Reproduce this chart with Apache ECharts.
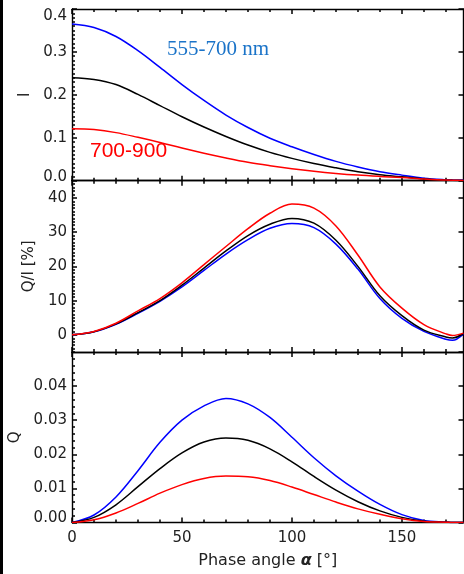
<!DOCTYPE html>
<html><head><meta charset="utf-8">
<script src="https://cdn.jsdelivr.net/npm/echarts@6/dist/echarts.min.js"></script>
<style>html,body{margin:0;padding:0;background:#fff}#c{width:464px;height:574px}</style>
</head><body><div id="c"></div>
<script>
// ---- data (phase angle in degrees) ----
const angles = [0,10,20,30,40,50,60,70,80,90,100,110,120,130,140,150,160,170,173,178];

// Panel 1: I
const iBlue  = [0.365,0.357,0.336,0.303,0.264,0.224,0.187,0.153,0.124,0.099,0.079,0.061,0.045,0.032,0.021,0.013,0.006,0.002,0.0015,0.001];
const iBlack = [0.240,0.236,0.224,0.201,0.175,0.149,0.125,0.103,0.083,0.066,0.052,0.040,0.030,0.021,0.014,0.009,0.004,0.0012,0.0008,0.0005];
const iRed   = [0.121,0.119,0.112,0.101,0.089,0.076,0.064,0.053,0.043,0.035,0.028,0.022,0.017,0.013,0.010,0.0075,0.004,0.0015,0.001,0.0005];

// Panel 2: Q/I [%]
const qiBlue  = [0,0.9,3.1,6.3,9.8,14.0,18.8,23.6,27.8,31.1,32.5,31.3,26.5,19.2,10.6,4.8,1.0,-1.3,-1.6,0.3];
const qiBlack = [0,0.9,3.2,6.5,10.0,14.5,19.5,24.5,29.0,32.3,34.0,32.6,27.6,20.0,11.4,5.6,1.4,-0.6,-0.9,0.4];
const qiRed   = [0,1.0,3.4,7.0,10.6,15.2,20.5,25.8,31.0,35.5,38.2,37.0,31.8,23.3,14.0,7.8,3.0,0.3,-0.2,0.5];

// Panel 3: Q
const qBlue  = [0,0.0022,0.0075,0.0152,0.0235,0.0300,0.0342,0.0364,0.0348,0.0308,0.0250,0.0190,0.0137,0.0092,0.0053,0.0023,0.0006,0.0001,0,0];
const qBlack = [0,0.0015,0.0052,0.0105,0.0158,0.0204,0.0236,0.0248,0.0241,0.0216,0.0178,0.0135,0.0095,0.0061,0.0034,0.0015,0.0004,0.0001,0,0];
const qRed   = [0,0.0008,0.0028,0.0056,0.0086,0.0111,0.0129,0.0136,0.0134,0.0123,0.0104,0.0082,0.0060,0.0040,0.0024,0.0011,0.0003,0.0001,0,0];

// ---- axes ----
const X_MIN = 0, X_MAX = 178, X_MAJOR = 50, X_MINOR = 10;

const panels = [
  { min: 0, max: 0.4, major: 0.1, minor: 0.01, dec: 1, name: 'I', nameGap: 37, showMin: true, showMax: true, lowPad: 8, hiPad: 14,
    series: [[iBlue,'#0000ff'],[iBlack,'#000000'],[iRed,'#ff0000']] },
  { min: -5, max: 45, major: null, split: 5, minor: 1, dec: 0, name: 'Q/I [%]', nameGap: 35, showMin: false, showMax: false, lowPad: 0, hiPad: 0,
    series: [[qiBlue,'#0000ff'],[qiBlack,'#000000'],[qiRed,'#ff0000']] },
  { min: 0, max: 0.05, major: 0.01, minor: 0.002, dec: 2, name: 'Q', nameGap: 48, showMin: true, showMax: false, lowPad: 9, hiPad: 0,
    series: [[qBlue,'#0000ff'],[qBlack,'#000000'],[qRed,'#ff0000']] }
];

const gridPos = [ {top: 9, height: 171.7}, {top: 180.7, height: 171.3}, {top: 352, height: 170.5} ];
const FONT = 'DejaVu Sans';
const LBL = '#222';
const axisLineStyle = { color: '#000', width: 1.4 };
const tickStyle = { color: '#000', width: 1.5 };

const grids = [], xAxes = [], yAxes = [], series = [];

panels.forEach((p, g) => {
  grids.push({ left: 72, width: 391.5, top: gridPos[g].top, height: gridPos[g].height, containLabel: false, outerBoundsMode: 'none' });
  const isLast = g === panels.length - 1;
  const xBase = { gridIndex: g, type: 'value', min: X_MIN, max: X_MAX, splitLine: { show: false } };
  ['bottom', 'top'].forEach(pos => {
    xAxes.push(Object.assign({}, xBase, {
      position: pos, interval: X_MAJOR,
      axisLine: { show: true, onZero: false, lineStyle: axisLineStyle },
      axisTick: { show: true, inside: true, length: 5, lineStyle: tickStyle },
      axisLabel: { show: isLast && pos === 'bottom', showMaxLabel: false, margin: 8, fontFamily: FONT, fontSize: 15, color: LBL },
      name: (isLast && pos === 'bottom') ? '{n|Phase angle }{a|α}{n| [°]}' : '',
      nameLocation: 'middle', nameGap: 30,
      nameTextStyle: { rich: { n: { fontFamily: FONT, fontSize: 16, color: LBL }, a: { fontFamily: FONT, fontSize: 16, fontWeight: 'bold', fontStyle: 'italic', color: LBL } } }
    }));
    xAxes.push(Object.assign({}, xBase, {
      position: pos, interval: X_MINOR,
      axisLine: { show: false, onZero: false },
      axisTick: { show: true, inside: true, length: 3, lineStyle: tickStyle },
      axisLabel: { show: false }
    }));
  });

  const yBase = { gridIndex: g, type: 'value', min: p.min, max: p.max, splitLine: { show: false } };
  const majorOpts = p.major ? { interval: p.major } : { splitNumber: p.split };
  yAxes.push(Object.assign({}, yBase, majorOpts, {
    position: 'left',
    axisLine: { show: true, onZero: false, lineStyle: axisLineStyle },
    axisTick: { show: true, inside: true, length: 5, lineStyle: tickStyle },
    axisLabel: {
      show: true, margin: 5, showMinLabel: p.showMin, showMaxLabel: p.showMax,
      formatter: v => {
        const s = v.toFixed(p.dec);
        if (Math.abs(v - p.min) < 1e-9 && p.lowPad) return '{lo|' + s + '}';
        if (Math.abs(v - p.max) < 1e-9 && p.hiPad) return '{hi|' + s + '}';
        return '{n|' + s + '}';
      },
      rich: {
        n: { fontFamily: FONT, fontSize: 15, color: LBL },
        lo: { fontFamily: FONT, fontSize: 15, color: LBL, padding: [0, 0, p.lowPad, 0] },
        hi: { fontFamily: FONT, fontSize: 15, color: LBL, padding: [p.hiPad, 0, 0, 0] }
      }
    },
    name: p.name, nameLocation: 'middle', nameGap: p.nameGap,
    nameTextStyle: { fontFamily: FONT, fontSize: 15, color: LBL }
  }));
  yAxes.push(Object.assign({}, yBase, {
    position: 'left', interval: p.minor,
    axisLine: { show: false, onZero: false },
    axisTick: { show: true, inside: true, length: 3, lineStyle: tickStyle },
    axisLabel: { show: false }
  }));
  yAxes.push(Object.assign({}, yBase, majorOpts, {
    position: 'right',
    axisLine: { show: true, onZero: false, lineStyle: axisLineStyle },
    axisTick: { show: true, inside: true, length: 5, lineStyle: tickStyle },
    axisLabel: { show: false }
  }));

  p.series.forEach(([arr, color]) => {
    series.push({
      type: 'line', xAxisIndex: g * 4, yAxisIndex: g * 3,
      data: angles.map((a, i) => [a, arr[i]]),
      showSymbol: false, smooth: 0.35, silent: true,
      lineStyle: { color: color, width: 1.5 }, itemStyle: { color: color }
    });
  });
});

const chart = echarts.init(document.getElementById('c'), null, { renderer: 'canvas' });
chart.setOption({
  backgroundColor: '#fff',
  animation: false,
  grid: grids, xAxis: xAxes, yAxis: yAxes, series: series,
  graphic: [
    { type: 'rect', shape: { x: 0, y: 0, width: 3, height: 574 }, style: { fill: '#000' } },
    { type: 'text', x: 167, y: 49.5, style: { text: '555-700 nm', fill: '#1a73c8', fontFamily: 'Liberation Serif', fontSize: 21, verticalAlign: 'middle', align: 'left' } },
    { type: 'text', x: 90, y: 151, style: { text: '700-900', fill: '#ff0000', fontFamily: 'Liberation Sans', fontSize: 21, verticalAlign: 'middle', align: 'left' } }
  ]
});
</script></body></html>
